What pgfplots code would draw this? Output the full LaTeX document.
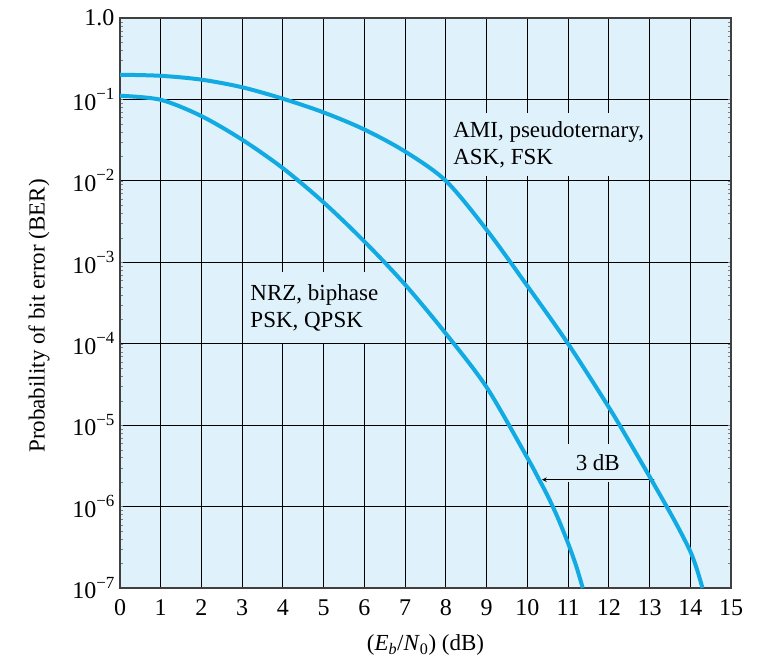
\documentclass[border=0pt]{standalone}
\usepackage{fontspec}
\setmainfont{Liberation Serif}
\usepackage{pgfplots}
\pgfplotsset{compat=1.18}
\definecolor{bgblue}{RGB}{223,242,252}
\definecolor{curveblue}{RGB}{18,170,226}
\newcommand{\ex}[1]{10\raisebox{0.45em}{\fontsize{17}{17}\selectfont −#1}}
\begin{document}
\begin{tikzpicture}[font=\fontsize{23}{27}\selectfont]
\useasboundingbox (0,0) rectangle (768pt,658pt);
\begin{axis}[
  at={(120pt,70pt)}, anchor=south west,
  width=611pt, height=570pt, scale only axis,
  xmin=0, xmax=15, ymode=log, ymin=1e-7, ymax=1,
  xtick={0,1,...,15},
  ytick={1e-7,1e-6,1e-5,1e-4,1e-3,1e-2,1e-1,1},
  yticklabels={\ex{7},\ex{6},\ex{5},\ex{4},\ex{3},\ex{2},\ex{1},1.0},
  /pgf/number format/assume math mode=true,
  tick label style={font=\fontsize{24}{27}\selectfont},
  grid=major,
  major grid style={black, line width=1.1pt},
  axis background/.style={fill=bgblue},
  axis line style={line width=1.6pt, black!75},
  major tick length=0pt,
  xticklabel style={yshift=-8pt},
  yticklabel style={xshift=-2pt},
  xlabel={(\textit{E}\textsubscript{\textit{b}}/\textit{N}\textsubscript{0}) (dB)},
  ylabel={Probability of bit error (BER)},
  xlabel style={yshift=-12pt},
  ylabel style={yshift=16pt, xshift=-13pt},
]
\node[fill=bgblue, anchor=north west, align=left, inner xsep=4pt, inner ysep=8pt] at (axis cs:8.08,0.068) {AMI, pseudoternary,\\ASK, FSK};
\node[fill=bgblue, anchor=north west, align=left, inner xsep=4pt, inner ysep=12pt] at (axis cs:3.1,7.6e-4) {NRZ, biphase\\PSK, QPSK};
\node[fill=bgblue, anchor=base, inner xsep=25pt, inner ysep=11pt] at (axis cs:11.73,2.75e-6) {3 dB};
\draw[<->, >=stealth, line width=1.1pt] (axis cs:10.36,2.14e-6) -- (axis cs:13.12,2.14e-6);
\addplot[curveblue, line width=4pt, smooth] coordinates {
(0,0.201) (1,0.195) (2,0.175) (3,0.141) (4,0.102) (5,0.0692) (6,0.0427) (7,0.0229) (8,0.0100) (9,0.00251) (10,5.13e-4) (11,1.0e-4) (12,1.66e-5) (12.5,6.31e-6) (13,2.34e-6) (13.5,8.51e-7) (13.75,5.01e-7) (14,2.82e-7) (14.15,1.78e-7) (14.3,1.0e-7)
};
\addplot[curveblue, line width=4pt, smooth] coordinates {
(0,0.111) (1,0.0989) (2,0.0624) (3,0.032) (4,0.01429) (5,0.00543) (6,0.0018) (7,5.31e-4) (8,1.33e-4) (9,2.92e-5) (10,3.98e-6) (10.25,2.34e-6) (10.5,1.35e-6) (10.75,7.24e-7) (11,3.55e-7) (11.2,1.86e-7) (11.36,1.0e-7)
};
\end{axis}
\end{tikzpicture}
\end{document}
